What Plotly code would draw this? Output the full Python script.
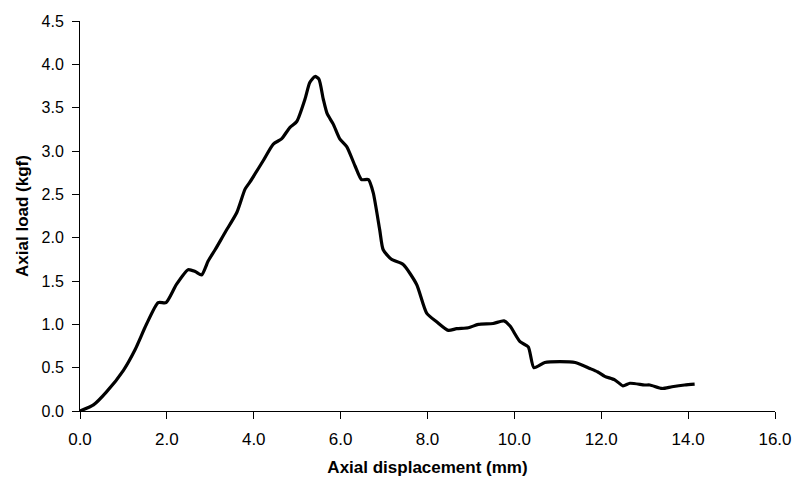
import plotly.graph_objects as go

disp = [0.0, 0.31, 0.61, 1.0, 1.27, 1.53, 1.8, 1.98, 2.22, 2.49, 2.65, 2.8, 2.95, 3.11,
        3.34, 3.61, 3.8, 3.91, 4.22, 4.45, 4.64, 4.83, 4.99, 5.18, 5.29, 5.41, 5.5,
        5.6, 5.69, 5.83, 5.98, 6.14, 6.33, 6.48, 6.64, 6.75, 6.9, 6.98, 7.17, 7.44,
        7.75, 7.98, 8.21, 8.48, 8.67, 8.94, 9.17, 9.51, 9.76, 9.9, 10.13, 10.32,
        10.45, 10.7, 11.05, 11.4, 11.74, 11.92, 12.08, 12.31, 12.5, 12.66, 13.0,
        13.12, 13.4, 13.63, 13.92, 14.15]
load = [0.0, 0.07, 0.22, 0.47, 0.71, 1.0, 1.25, 1.25, 1.46, 1.63, 1.61, 1.57, 1.73, 1.86,
        2.06, 2.29, 2.56, 2.64, 2.89, 3.08, 3.14, 3.27, 3.34, 3.6, 3.79, 3.86, 3.83,
        3.6, 3.43, 3.31, 3.14, 3.05, 2.83, 2.67, 2.67, 2.52, 2.09, 1.86, 1.75, 1.69,
        1.46, 1.13, 1.03, 0.93, 0.95, 0.96, 1.0, 1.01, 1.04, 0.98, 0.8, 0.74,
        0.5, 0.56, 0.57, 0.56, 0.49, 0.45, 0.4, 0.36, 0.29, 0.32, 0.3,
        0.3, 0.26, 0.28, 0.3, 0.31]

x_ticks = [0, 2, 4, 6, 8, 10, 12, 14, 16]
y_ticks = [0, 0.5, 1.0, 1.5, 2.0, 2.5, 3.0, 3.5, 4.0, 4.5]

fig = go.Figure()
fig.add_trace(go.Scatter(x=disp, y=load, mode="lines",
                         line=dict(color="black", width=3.2, shape="spline", smoothing=0.6),
                         showlegend=False))

font = "Liberation Sans, Arial, sans-serif"
fig.update_layout(
    width=793, height=477,
    margin=dict(l=80, r=18, t=21, b=66),
    paper_bgcolor="white", plot_bgcolor="white",
    font=dict(family=font, size=16, color="black"),
)
fig.update_xaxes(range=[0, 16], tickvals=x_ticks, tickformat=".1f", automargin=False,
                 showgrid=False, zeroline=False, showline=True, linecolor="black", linewidth=1,
                 ticks="outside", ticklen=7, tickcolor="black", ticklabelstandoff=6,
                 tickfont=dict(size=17),
                 title=dict(text="<b>Axial displacement (mm)</b>", font=dict(size=17), standoff=17))
fig.update_yaxes(range=[0, 4.5], tickvals=y_ticks, tickformat=".1f", automargin=False,
                 showgrid=False, zeroline=False, showline=True, linecolor="black", linewidth=1,
                 ticks="outside", ticklen=7, tickcolor="black", ticklabelstandoff=5,
                 tickfont=dict(size=16),
                 title=dict(text="<b>Axial load (kgf)</b>", font=dict(size=17), standoff=8))

fig.write_html("out.html")
